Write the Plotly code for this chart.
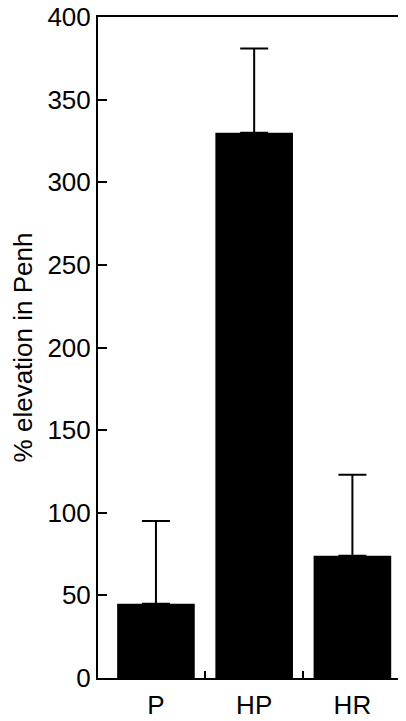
import plotly.graph_objects as go

# data
categories = ["P", "HP", "HR"]
elevation = [45, 330, 74]
sem_upper = [50, 51, 49]
boundary_ticks = [0.5, 1.5]
y_ticks = [0, 50, 100, 150, 200, 250, 300, 350, 400]

FONT = "Liberation Sans, Arial, Helvetica, sans-serif"
positions = list(range(len(categories)))

fig = go.Figure()

fig.add_trace(
    go.Bar(
        x=positions,
        y=elevation,
        width=0.79,
        marker={"color": "black", "line": {"width": 0}},
        error_y={
            "type": "data",
            "symmetric": False,
            "array": sem_upper,
            "arrayminus": [0] * len(sem_upper),
            "color": "black",
            "thickness": 2,
            "width": 14,
        },
        showlegend=False,
        cliponaxis=False,
    )
)

# page body adds an 8px offset, so the figure is a bit smaller than the window
fig.update_layout(
    width=398,
    height=713,
    margin={"l": 90, "r": 4, "t": 9, "b": 43, "autoexpand": False},
    paper_bgcolor="white",
    plot_bgcolor="white",
    font={"family": FONT, "size": 26, "color": "black"},
    showlegend=False,
)

fig.update_xaxes(
    range=[-0.59, 2.505],
    tickvals=positions,
    ticktext=categories,
    ticks="",
    ticklabelstandoff=3,
    ticklabeloverflow="allow",
    automargin=False,
    showgrid=False,
    zeroline=False,
    showline=True,
    linecolor="black",
    linewidth=2,
    mirror=True,
    tickfont={"size": 26},
    minor={"tickvals": boundary_ticks, "ticks": "inside", "ticklen": 7,
           "tickcolor": "black", "tickwidth": 1.5, "showgrid": False},
)

fig.update_yaxes(
    range=[0, 400],
    tickvals=y_ticks,
    ticks="inside",
    ticklen=9,
    tickwidth=1.5,
    tickcolor="black",
    ticklabeloverflow="allow",
    automargin=False,
    showgrid=False,
    zeroline=False,
    showline=True,
    linecolor="black",
    linewidth=2,
    mirror=True,
    tickfont={"size": 26},
    title={"text": "% elevation in Penh", "font": {"size": 26}, "standoff": 19},
)

fig.write_html("out.html")
